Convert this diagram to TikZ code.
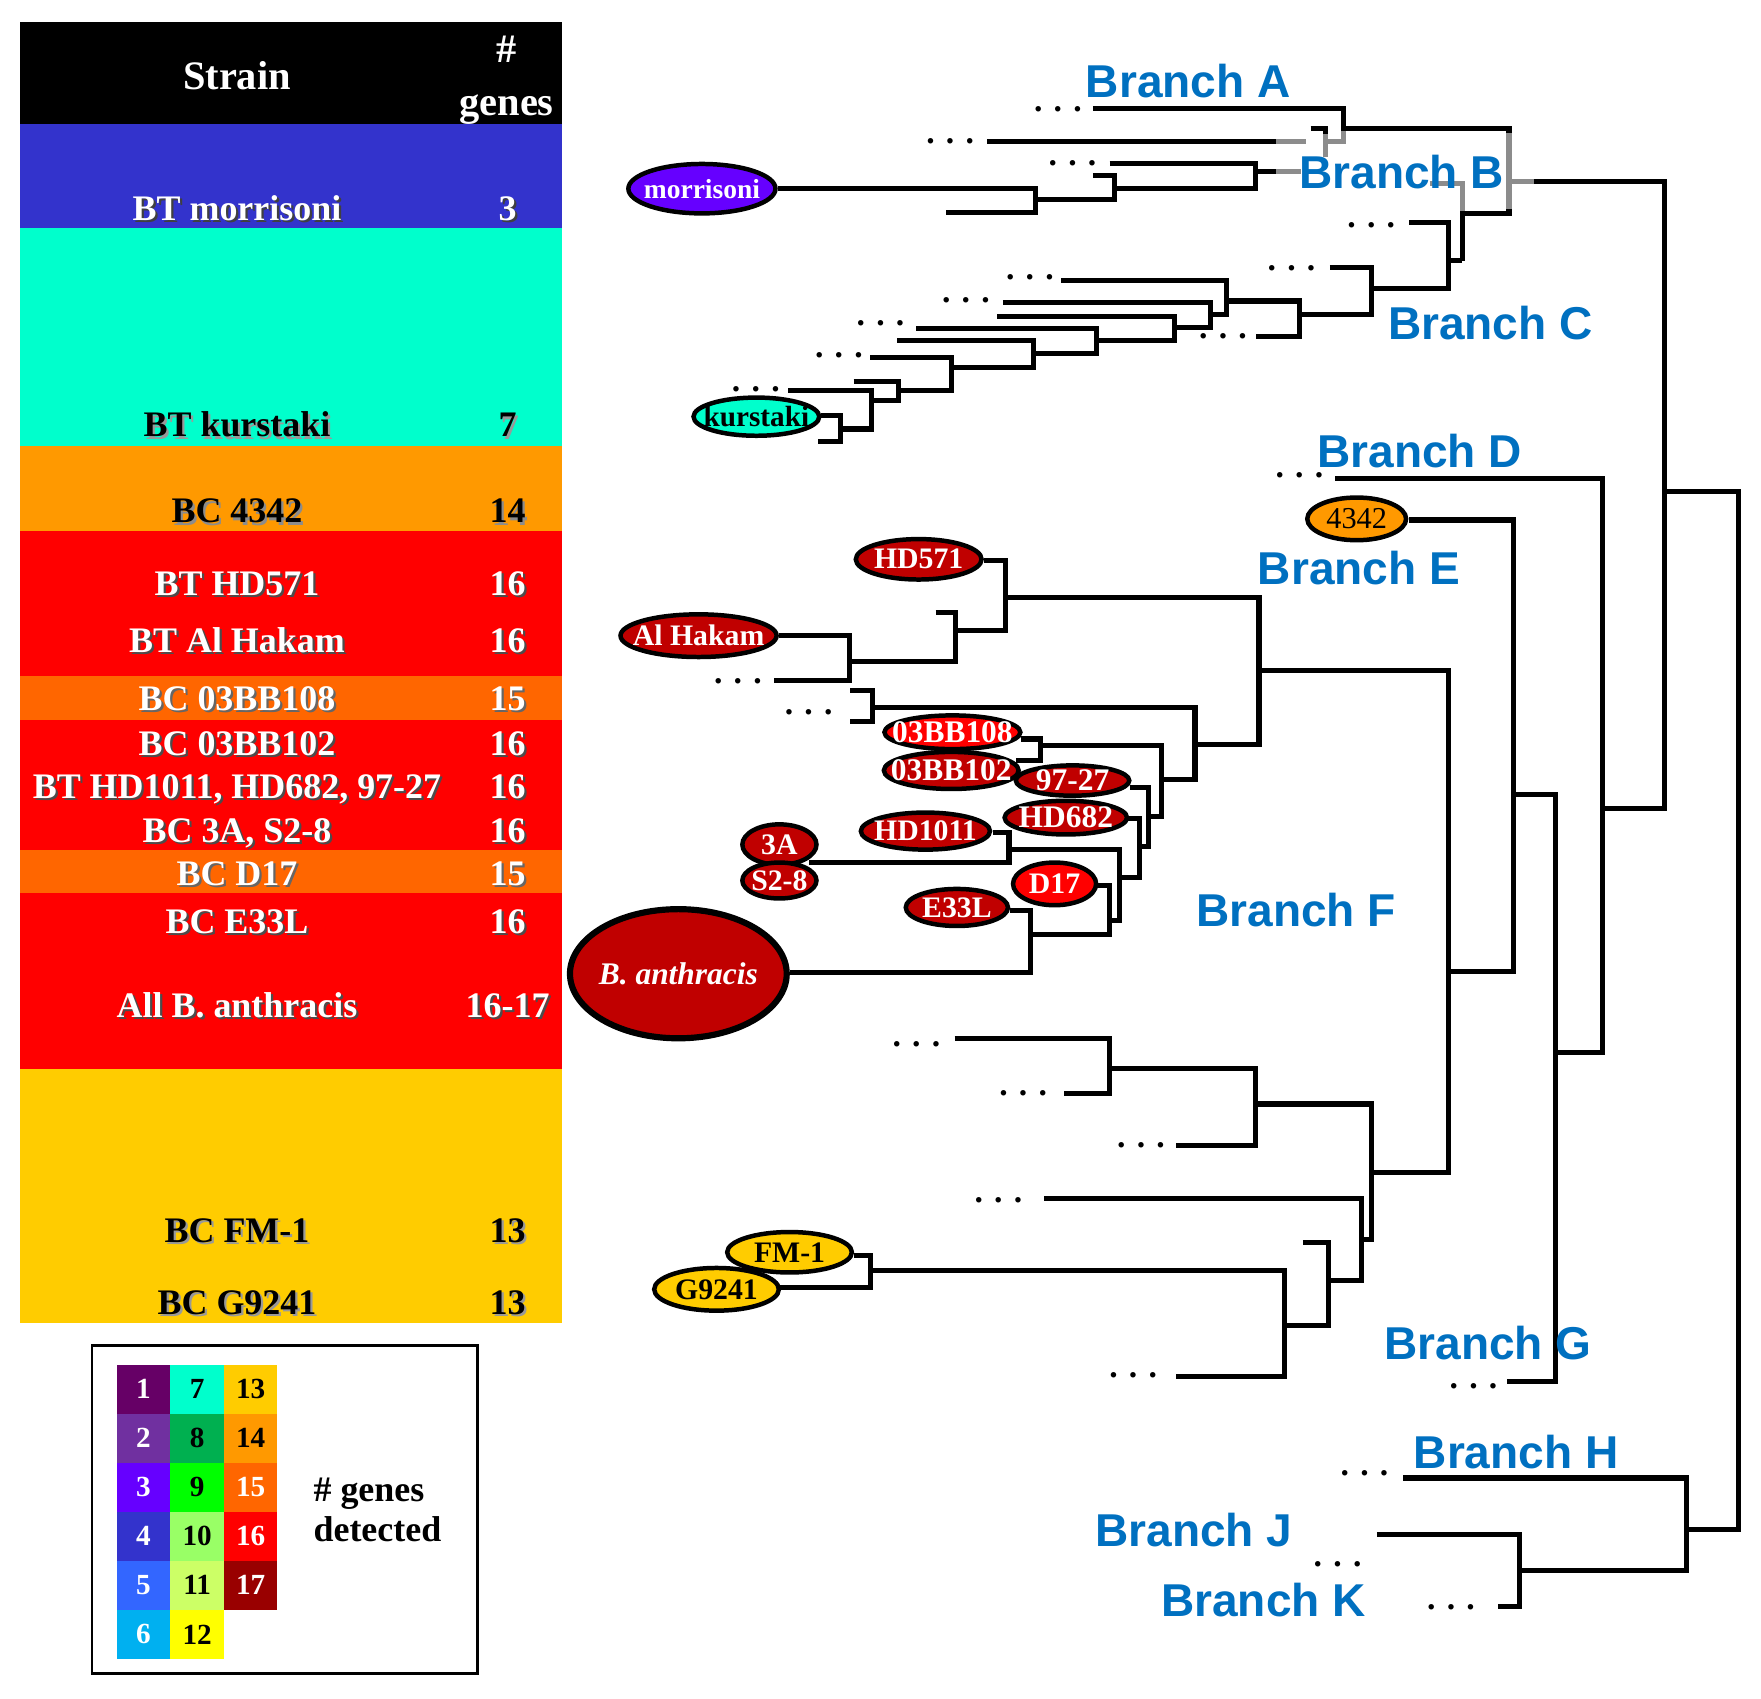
\documentclass[tikz,border=0pt]{standalone}
\usepackage{fontspec}
\setmainfont{Liberation Serif}
\newfontfamily\arialf{Liberation Sans}
\usetikzlibrary{shapes.geometric}
\definecolor{c1}{HTML}{660066}
\definecolor{c2}{HTML}{7030A0}
\definecolor{c3}{HTML}{6600FF}
\definecolor{c4}{HTML}{3333CC}
\definecolor{c5}{HTML}{3366FF}
\definecolor{c6}{HTML}{00B0F0}
\definecolor{c7}{HTML}{00FFCC}
\definecolor{c8}{HTML}{00B050}
\definecolor{c9}{HTML}{00FF00}
\definecolor{c10}{HTML}{99FF66}
\definecolor{c11}{HTML}{CCFF66}
\definecolor{c12}{HTML}{FFFF00}
\definecolor{c13}{HTML}{FFCC00}
\definecolor{c14}{HTML}{FF9900}
\definecolor{c15}{HTML}{FF6600}
\definecolor{c16}{HTML}{FF0000}
\definecolor{c17}{HTML}{990000}
\definecolor{cDR}{HTML}{C00000}
\definecolor{brblue}{HTML}{0070C0}
\definecolor{gl}{HTML}{8C8C8C}
\newcommand\tabfont{\fontsize{32}{38}\selectfont\bfseries}
\newcommand\hdrfont{\fontsize{36}{40}\selectfont\bfseries}
\newcommand\ellfont{\fontsize{26.5}{30}\selectfont\bfseries}
\newcommand\brfont{\arialf\fontsize{41}{46}\selectfont\bfseries}
\newcommand\legfont{\fontsize{26}{30}\selectfont\bfseries}
\newcommand\dotfont{\fontsize{30}{30}\selectfont\bfseries}
\newcommand\tabrow[6]{%
  \node[tt, text=#4, xshift=2pt, yshift=-2pt] (#1ss) at (211,#2) {#5};
  \node[tt, text=#3] (#1s) at (211,#2) {#5};
  \node[tt, text=#4, xshift=2pt, yshift=-2pt] (#1ns) at (452,#2) {#6};
  \node[tt, text=#3] (#1n) at (452,#2) {#6};
}
\begin{document}
\begin{tikzpicture}[x=1pt,y=-1pt,
  tt/.style={anchor=base, inner sep=0pt, font=\tabfont},
  hdr/.style={anchor=base, inner sep=0pt, font=\hdrfont, text=white},
  ln/.style={line width=4.5pt, line join=miter, draw=black},
  gln/.style={line width=4.5pt, draw=gl},
  leafe/.style={ellipse, draw=black, line width=4pt, inner sep=0pt, outer sep=0pt},
  etxt/.style={inner sep=0pt, font=\ellfont, text=white},
  brl/.style={inner sep=0pt, font=\brfont, text=brblue},
  ell3/.style={anchor=base, inner sep=0pt, font=\dotfont},
  cell/.style={minimum width=47.7pt, minimum height=43.7pt, inner sep=0pt, outer sep=0pt, font=\legfont}]
\useasboundingbox (0,0) rectangle (1568,1512);
\fill[white] (0,0) rectangle (1568,1512);

% ---------- table ----------
\fill[black] (18,20) rectangle (500,110);
\fill[c4] (18,110) rectangle (500,203);
\fill[c7] (18,203) rectangle (500,397);
\fill[c14] (18,397) rectangle (500,473);
\fill[c16] (18,473) rectangle (500,602);
\fill[c15] (18,602) rectangle (500,641);
\fill[c16] (18,641) rectangle (500,757);
\fill[c15] (18,757) rectangle (500,795);
\fill[c16] (18,795) rectangle (500,952);
\fill[c13] (18,952) rectangle (500,1178);

\node[hdr] (hstrain) at (211,79.6) {Strain};
\node[hdr] (hhash) at (451,56) {\#};
\node[hdr] (hgenes) at (451,102.5) {genes};

\tabrow{ra}{196}{white}{black!75}{BT morrisoni}{3}
\tabrow{rb}{389}{black}{black!40}{BT kurstaki}{7}
\tabrow{rc}{465.6}{black}{black!45}{BC 4342}{14}
\tabrow{rd}{530}{white}{black!70}{BT HD571}{16}
\tabrow{re}{580.6}{white}{black!70}{BT Al Hakam}{16}
\tabrow{rf}{632.6}{white}{black!60}{BC 03BB108}{15}
\tabrow{rg}{672.7}{white}{black!70}{BC 03BB102}{16}
\tabrow{rh}{711}{white}{black!70}{BT HD1011, HD682, 97-27}{16}
\tabrow{ri}{750}{white}{black!70}{BC 3A, S2-8}{16}
\tabrow{rj}{788.5}{white}{black!60}{BC D17}{15}
\tabrow{rk}{831}{white}{black!70}{BC E33L}{16}
\tabrow{rl}{905.8}{white}{black!70}{All B. anthracis}{16-17}
\tabrow{rm}{1106}{black}{black!40}{BC FM-1}{13}
\tabrow{rn}{1170}{black}{black!40}{BC G9241}{13}

% ---------- legend ----------
\draw[line width=2.5pt] (82,1198) rectangle (425,1490);
\foreach \n/\cx/\cy/\cc/\tc in {
  1/127.8/1236.8/c1/white, 2/127.8/1280.5/c2/white, 3/127.8/1324.2/c3/white,
  4/127.8/1367.8/c4/white, 5/127.8/1411.5/c5/white, 6/127.8/1455.2/c6/white,
  7/175.5/1236.8/c7/black, 8/175.5/1280.5/c8/black, 9/175.5/1324.2/c9/black,
  10/175.5/1367.8/c10/black, 11/175.5/1411.5/c11/black, 12/175.5/1455.2/c12/black,
  13/223.2/1236.8/c13/black, 14/223.2/1280.5/c14/black, 15/223.2/1324.2/c15/white,
  16/223.2/1367.8/c16/white, 17/223.2/1411.5/c17/white}
  \node[cell, fill=\cc, text=\tc] (lg\n) at (\cx,\cy) {\n};
\node[tt, anchor=base west] (lgt1) at (279,1336.5) {\# genes};
\node[tt, anchor=base west] (lgt2) at (279,1372.7) {detected};

% ---------- dots ----------
\foreach \i/\dx/\dy in {1/942/97, 2/846/125, 3/955/145, 4/1221/200, 5/1150/238,
  6/917/246, 7/860/267, 8/784/287, 9/1089/299, 10/747/316, 11/673/346,
  12/1157/423, 13/657/606, 14/720/634, 15/816/929, 16/911/973, 17/1016/1019,
  18/889/1068, 19/1009/1224, 20/1312/1234, 21/1215/1311, 22/1191/1392, 23/1292/1431}
  \node[ell3] (dt\i) at (\dx,\dy+2.5) {. . .};

% ---------- gray highlight ----------
\draw[gln] (1136,126) -- (1163,126);
\draw[gln] (1180,118) -- (1180,140);
\draw[gln] (1180,126) -- (1196,126) -- (1196,116);
\draw[gln] (1136,153) -- (1158,153);
\draw[gln] (1343.6,116) -- (1343.6,188);
\draw[gln] (1343.6,162) -- (1366,162);
\draw[gln] (1273,163) -- (1302,163) -- (1302,191);

% ---------- tree: top ----------
\coordinate (morrE) at (692.5,168);
\draw[ln] (morrE) -- (922,168) |- (842,189);
\draw[ln] (973,156) -| (992,178) -- (922,178);
\draw[ln] (988,146) -| (1118,168) -- (992,168);
\draw[ln] (1118,153) -- (1136,153);
\draw[ln] (879,126) -- (1136,126);
\draw[ln] (973,97) -| (1196,117);
\draw[ln] (1167,114) -| (1180,119);
\draw[ln] (1196,114) -- (1343.6,114) -- (1343.6,118);
\draw[ln] (1302,232) -- (1302,190) -- (1343.6,190) -- (1343.6,186);
\draw[ln] (1366,162) -| (1482,720) -- (1427,720);
\draw[ln] (1482,438) -| (1548,1362) -- (1502,1362);

% Branch C ladder
\coordinate (kursE) at (731,370);
\draw[ln] (kursE) -| (748,393) -- (728,393);
\draw[ln] (702,348) -| (776,382) -- (748,382);
\draw[ln] (760,340) -| (800,357) -- (776,357);
\draw[ln] (775,318) -| (847,348) -- (800,348);
\draw[ln] (799,303.5) -| (920,327) -- (847,327);
\draw[ln] (816,292.5) -| (976,315) -- (920,315);
\draw[ln] (888,281.6) -| (1046,303) -- (976,303);
\draw[ln] (893,269) -| (1078,292) -- (1046,292);
\draw[ln] (945,250) -| (1092,280) -- (1078,280);
\draw[ln] (1092,268) -| (1157,300) -- (1118,300);
\draw[ln] (1184,238) -| (1221,280) -- (1157,280);
\draw[ln] (1255,198) -| (1290,257) -- (1221,257);
\draw[ln] (1290,232) -- (1302,232);

% ---------- tree: right ----------
\draw[ln] (1189,426) -| (1427,937) -- (1385,937);
\draw[ln] (1255,463) -| (1348,865) -- (1290,865);
\draw[ln] (1348,707) -| (1385,1230) -- (1342,1230);
\draw[ln] (1121,597) -| (1290,1044) -- (1220,1044);
\draw[ln] (1249.5,1316) -| (1502,1398) -- (1353,1398);
\draw[ln] (1226,1366) -| (1353,1430) -- (1334,1430);

% ---------- Branch F upper ----------
\draw[ln] (876,499) -| (895,561) -- (851,561);
\draw[ln] (833,545) -| (851,589) -- (756,589);
\draw[ln] (694,566) -| (756,606) -- (689,606);
\draw[ln] (895,532) -| (1121,663) -- (1064,663);
\draw[ln] (757,615) -| (777,642) -- (757,642);
\draw[ln] (777,630) -| (1064,694) -- (1034,694);
\draw[ln] (926.5,664) -| (1034,727) -- (1023,727);
\draw[ln] (909,658) -| (926.5,677) -- (905,677);
\draw[ln] (1006,701) -| (1023,754) -- (1014.5,754);
\draw[ln] (1004,729) -| (1014.5,781) -- (997,781);
\draw[ln] (884,741) -| (898.4,768) -- (720,768);
\draw[ln] (898.4,756) -| (997,820) -- (988,820);
\draw[ln] (977,788.6) -| (988,832) -- (917.7,832);
\draw[ln] (899,811) -| (917.7,866) -- (703,866);

% ---------- Branch F lower ----------
\draw[ln] (850,925) -| (988,974) -- (947,974);
\draw[ln] (988,951) -| (1118,1020) -- (1047,1020);
\draw[ln] (1118,983) -| (1221,1104) -- (1212,1104);
\draw[ln] (930,1067) -| (1212,1140) -- (1182.5,1140);
\draw[ln] (1160,1106) -| (1182.5,1180) -- (1144,1180);
\draw[ln] (775,1131) -| (1144,1226) -- (1047,1226);
\draw[ln] (760,1118) -| (775,1146) -- (694,1146);

% ---------- leaf ellipses ----------
\node[leafe, fill=c3, minimum width=131pt, minimum height=44pt] (morr) at (625,168) {};
\node[etxt, font=\fontsize{24.5}{28}\selectfont\bfseries] (morrT) at (morr) {morrisoni};
\node[leafe, fill=c7, minimum width=112pt, minimum height=34pt] (kurs) at (673.5,371) {};
\node[etxt, text=black, font=\fontsize{26}{28}\selectfont\bfseries] (kursT) at (kurs) {kurstaki};
\node[leafe, fill=c14, minimum width=88pt, minimum height=38pt] (e4342) at (1208,462) {};
\node[etxt, text=black, font=\fontsize{27}{30}\selectfont] (e4342T) at (e4342) {4342};
\node[leafe, fill=cDR, minimum width=112pt, minimum height=36pt] (hd571) at (818,498) {};
\node[etxt] (hd571T) at (hd571) {HD571};
\node[leafe, fill=cDR, minimum width=139pt, minimum height=38pt] (alh) at (622,566) {};
\node[etxt] (alhT) at (alh) {Al Hakam};
\node[leafe, fill=cDR, minimum width=120pt, minimum height=33pt] (b102) at (847,686) {};
\node[etxt, font=\fontsize{28}{30}\selectfont\bfseries] (b102T) at (b102) {03BB102};
\node[leafe, fill=c16, minimum width=121pt, minimum height=30pt] (b108) at (848,652) {};
\node[etxt, font=\fontsize{28}{30}\selectfont\bfseries] (b108T) at (b108) {03BB108};
\node[leafe, fill=cDR, minimum width=101pt, minimum height=27pt] (e9727) at (955,695) {};
\node[etxt, font=\fontsize{28}{30}\selectfont\bfseries] (e9727T) at (e9727) {97-27};
\node[leafe, fill=cDR, minimum width=109pt, minimum height=30pt] (hd682) at (949,728) {};
\node[etxt, font=\fontsize{28}{30}\selectfont\bfseries] (hd682T) at (hd682) {HD682};
\node[leafe, fill=cDR, minimum width=115pt, minimum height=33pt] (hd1011) at (824,740) {};
\node[etxt] (hd1011T) at (hd1011) {HD1011};
\node[leafe, fill=cDR, minimum width=66pt, minimum height=36pt] (e3a) at (694,752) {};
\node[etxt] (e3aT) at (e3a) {3A};
\node[leafe, fill=cDR, minimum width=66pt, minimum height=32pt] (s28) at (694,784) {};
\node[etxt] (s28T) at (s28) {S2-8};
\node[leafe, fill=c16, minimum width=74pt, minimum height=38pt] (d17) at (939,787) {};
\node[etxt] (d17T) at (d17) {D17};
\node[leafe, fill=cDR, minimum width=91pt, minimum height=33pt] (e33l) at (852,808) {};
\node[etxt] (e33lT) at (e33l) {E33L};
\node[leafe, fill=cDR, line width=5.5pt, minimum width=193pt, minimum height=115pt] (ba) at (604,867) {};
\node[etxt, font=\fontsize{28}{32}\selectfont\bfseries\itshape] (baT) at (ba) {B. anthracis};
\node[leafe, fill=c13, minimum width=111pt, minimum height=38pt] (g9241) at (638,1148) {};
\node[etxt, text=black] (g9241T) at (g9241) {G9241};
\node[leafe, fill=c13, minimum width=111pt, minimum height=36pt] (fm1) at (703,1115) {};
\node[etxt, text=black] (fm1T) at (fm1) {FM-1};

% ---------- branch labels ----------
\node[brl] (brA) at (1058,72) {Branch A};
\node[brl] (brB) at (1248,153) {Branch B};
\node[brl] (brC) at (1327,288) {Branch C};
\node[brl] (brD) at (1264,402) {Branch D};
\node[brl] (brE) at (1210,506) {Branch E};
\node[brl] (brF) at (1154,810) {Branch F};
\node[brl] (brG) at (1325,1196) {Branch G};
\node[brl] (brH) at (1350,1293) {Branch H};
\node[brl] (brJ) at (1063,1362) {Branch J};
\node[brl] (brK) at (1125,1425) {Branch K};
\end{tikzpicture}
\end{document}
